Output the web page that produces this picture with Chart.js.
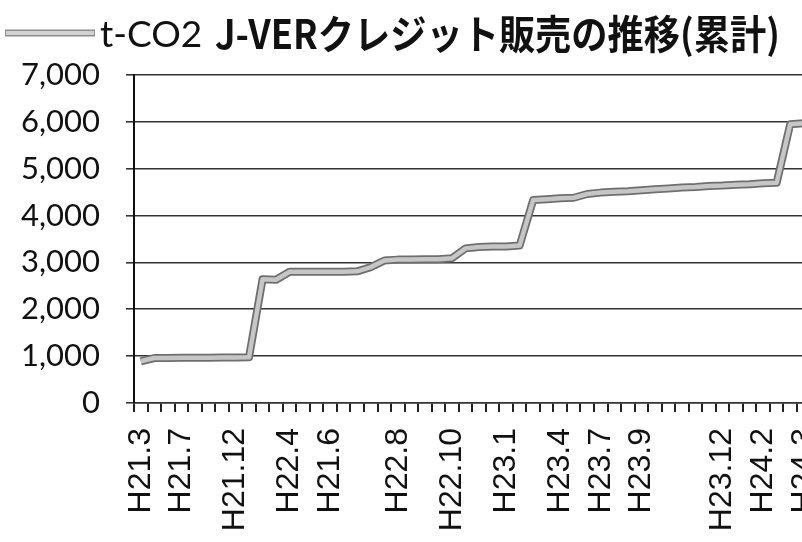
<!DOCTYPE html>
<html>
<head>
<meta charset="utf-8">
<script src="https://cdn.jsdelivr.net/npm/chart.js@4/dist/chart.umd.min.js"></script>
<style>
  html, body { margin: 0; padding: 0; background: #fff; overflow: hidden; }
  #wrap { width: 812px; height: 542px; }
</style>
</head>
<body>
<div id="wrap"><canvas id="creditChart"></canvas></div>
<script>
// sale periods (only some rows carry a label in the source sheet)
const periods = [
  'H21.3', '', '', 'H21.7', '', '', '', 'H21.12', '', '',
  '', 'H22.4', '', '', 'H21.6', '', '', '', '', 'H22.8',
  '', '', '', 'H22.10', '', '', '', 'H23.1', '', '',
  '', 'H23.4', '', '', 'H23.7', '', '', 'H23.9', '', '',
  '', '', '', 'H23.12', '', '', 'H24.2', '', '', 'H24.3'
];

// cumulative credits sold (t-CO2)
const cumulativeTons = [
  890, 960, 960, 965, 965, 965, 970, 970, 975, 2640,
  2630, 2800, 2800, 2800, 2800, 2800, 2810, 2900, 3040, 3060,
  3060, 3070, 3070, 3090, 3300, 3330, 3340, 3340, 3360, 4330,
  4350, 4370, 4380, 4460, 4490, 4510, 4520, 4540, 4560, 4580,
  4600, 4610, 4630, 4640, 4660, 4670, 4690, 4700, 5950, 5970
];

const yMin = 0;
const yMax = 7000;
const yStep = 1000;

const seriesName = 't-CO2';
const chartTitle = 'J-VERクレジット販売の推移(累計)';

// legend swatch + title on one row, like the original sheet
const headerPlugin = {
  id: 'header',
  afterDraw(chart) {
    const ctx = chart.ctx;
    ctx.save();
    ctx.lineCap = 'butt';
    ctx.strokeStyle = '#8c8c8c';
    ctx.lineWidth = 7;
    ctx.beginPath();
    ctx.moveTo(5, 33);
    ctx.lineTo(95, 33);
    ctx.stroke();
    ctx.strokeStyle = '#d2d2d2';
    ctx.lineWidth = 4;
    ctx.beginPath();
    ctx.moveTo(6, 33);
    ctx.lineTo(94, 33);
    ctx.stroke();

    ctx.fillStyle = '#111';
    ctx.textBaseline = 'middle';
    ctx.font = '37px Lato';
    ctx.fillText(seriesName, 100, 35);

    ctx.font = 'bold 40px "Noto Sans CJK JP"';
    const w = ctx.measureText(chartTitle).width;
    ctx.translate(215, 34);
    ctx.scale(565 / w, 1);
    ctx.fillText(chartTitle, 0, 0);
    ctx.restore();
  }
};

const ctx = document.getElementById('creditChart').getContext('2d');
const creditChart = new Chart(ctx, {
  type: 'line',
  data: {
    labels: periods,
    datasets: [
      {
        label: seriesName,
        data: cumulativeTons,
        borderColor: '#c6c6c6',
        borderWidth: 4.5,
        pointRadius: 0,
        tension: 0,
        borderJoinStyle: 'round',
        fill: false,
      },
      {
        label: seriesName + ' outline',
        data: cumulativeTons,
        borderColor: '#6e6e6e',
        borderWidth: 8,
        pointRadius: 0,
        tension: 0,
        borderJoinStyle: 'round',
        fill: false,
      },
    ],
  },
  options: {
    responsive: true,
    maintainAspectRatio: false,
    animation: false,
    layout: {
      autoPadding: false,
      padding: { top: 75, right: 1.5, left: 0, bottom: 0 },
    },
    plugins: {
      legend: { display: false },
      title: { display: false },
      tooltip: { enabled: false },
    },
    scales: {
      x: {
        offset: true,
        afterFit(scale) {
          scale.height = 139;
          // the sheet is cut at the right edge, keep labels from shrinking the plot
          scale.paddingLeft = 0;
          scale.paddingRight = 0;
        },
        grid: {
          offset: true,
          drawOnChartArea: false,
          tickLength: 9,
          color: '#222',
          lineWidth: 2,
        },
        border: { color: '#333', width: 1.5 },
        ticks: {
          autoSkip: false,
          minRotation: 90,
          maxRotation: 90,
          padding: 16,
          color: '#111',
          font: { family: '"Liberation Sans"', size: 32 },
        },
      },
      y: {
        min: yMin,
        max: yMax,
        afterFit(scale) { scale.width = 134; },
        grid: {
          color: '#333',
          lineWidth: 1.6,
          tickLength: 8,
        },
        border: { color: '#111', width: 2 },
        ticks: {
          stepSize: yStep,
          padding: 26,
          color: '#111',
          font: { family: 'Lato', size: 31 },
          callback: (v) => v.toLocaleString('en-US'),
        },
      },
    },
  },
  plugins: [headerPlugin],
});
</script>
</body>
</html>
